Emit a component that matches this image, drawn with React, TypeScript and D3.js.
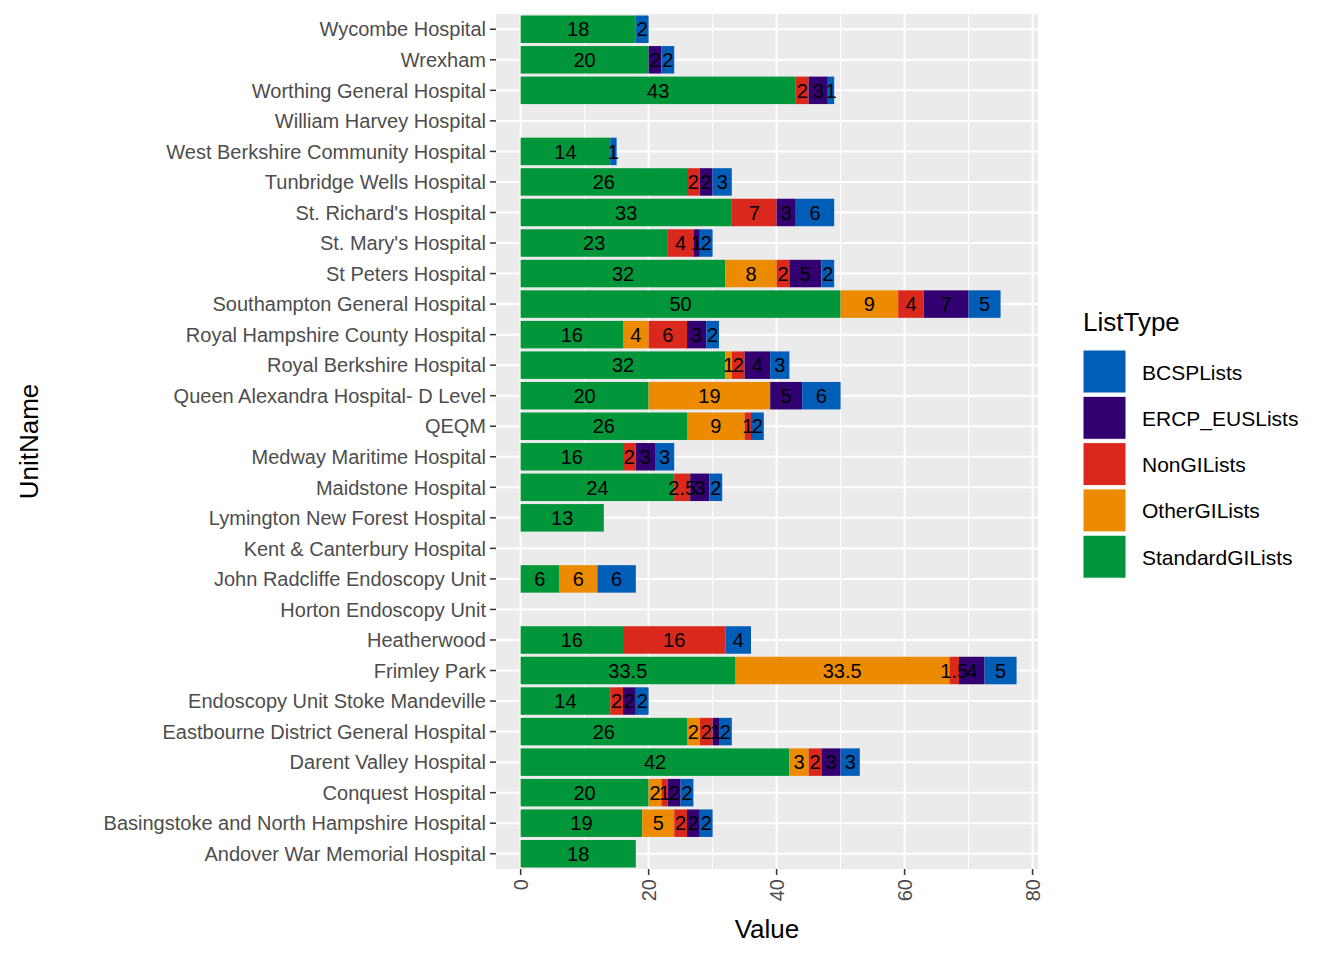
import React from 'react';
import * as d3 from 'd3';

const units = ["Wycombe Hospital","Wrexham","Worthing General Hospital","William Harvey Hospital","West Berkshire Community Hospital","Tunbridge Wells Hospital","St. Richard's Hospital","St. Mary's Hospital","St Peters Hospital","Southampton General Hospital","Royal Hampshire County Hospital","Royal Berkshire Hospital","Queen Alexandra Hospital- D Level","QEQM","Medway Maritime Hospital","Maidstone Hospital","Lymington New Forest Hospital","Kent & Canterbury Hospital","John Radcliffe Endoscopy Unit","Horton Endoscopy Unit","Heatherwood","Frimley Park","Endoscopy Unit Stoke Mandeville","Eastbourne District General Hospital","Darent Valley Hospital","Conquest Hospital","Basingstoke and North Hampshire Hospital","Andover War Memorial Hospital"];
const standardGI = [18,20,43,0,14,26,33,23,32,50,16,32,20,26,16,24,13,0,6,0,16,33.5,14,26,42,20,19,18];
const otherGI =    [0,0,0,0,0,0,0,0,8,9,4,1,19,9,0,0,0,0,6,0,0,33.5,0,2,3,2,5,0];
const nonGI =      [0,0,2,0,0,2,7,4,2,4,6,2,0,1,2,2.5,0,0,0,0,16,1.5,2,2,2,1,2,0];
const ercp =       [0,2,3,0,0,2,3,1,5,7,3,4,5,0,3,3,0,0,0,0,0,4,2,1,3,2,2,0];
const bcsp =       [2,2,1,0,1,3,6,2,2,5,2,3,6,2,3,2,0,0,6,0,4,5,2,2,3,2,2,0];
const seriesNames = ["StandardGILists","OtherGILists","NonGILists","ERCP_EUSLists","BCSPLists"];
const seriesValues = [standardGI, otherGI, nonGI, ercp, bcsp];
const colors: Record<string,string> = { BCSPLists: "#005EB8", ERCP_EUSLists: "#330072", NonGILists: "#DA291C", OtherGILists: "#ED8B00", StandardGILists: "#009639" };
const legendOrder = ["BCSPLists","ERCP_EUSLists","NonGILists","OtherGILists","StandardGILists"];
const xTicks = [0,20,40,60,80];

export default function App() {
  const W = 1344, H = 960;
  const left = 496, right = 1038, top = 14, bottom = 869;
  const x = d3.scaleLinear().domain([-3.85, 80.85]).range([left, right]);
  const y = d3.scaleBand().domain(units).range([top, bottom]).paddingInner(0.1).paddingOuter(0.05);
  const font = "Arial, 'Liberation Sans', sans-serif";
  const fmt = (v: number) => String(v);
  const minor = xTicks.slice(0, -1).map(t => t + 10);

  const segs: any[] = [];
  units.forEach((u, i) => {
    let acc = 0;
    seriesNames.forEach((s, k) => {
      const v = seriesValues[k][i];
      if (v > 0) segs.push({ u, s, x0: acc, x1: acc + v, v });
      acc += v;
    });
  });

  return (
    <svg width={W} height={H} style={{ position: 'absolute', left: 0, top: 0, background: '#fff' }} fontFamily={font}>
      <rect x={left} y={top} width={right - left} height={bottom - top} fill="#EBEBEB" />
      {minor.map(t => <line key={'m' + t} x1={x(t)} x2={x(t)} y1={top} y2={bottom} stroke="#fff" strokeWidth={1} />)}
      {xTicks.map(t => <line key={'g' + t} x1={x(t)} x2={x(t)} y1={top} y2={bottom} stroke="#fff" strokeWidth={2} />)}
      {units.map(u => <line key={'h' + u} x1={left} x2={right} y1={y(u)! + y.bandwidth() / 2} y2={y(u)! + y.bandwidth() / 2} stroke="#fff" strokeWidth={2} />)}
      {segs.map((d, i) => (
        <rect key={'r' + i} x={x(d.x0)} width={x(d.x1) - x(d.x0)} y={y(d.u)} height={y.bandwidth()} fill={colors[d.s]} />
      ))}
      {segs.map((d, i) => (
        <text key={'t' + i} x={(x(d.x0) + x(d.x1)) / 2} y={y(d.u)! + y.bandwidth() / 2} dy="0.36em" textAnchor="middle" fontSize={20} fill="#000">{fmt(d.v)}</text>
      ))}
      {units.map(u => (
        <g key={'yl' + u}>
          <line x1={left - 6} x2={left} y1={y(u)! + y.bandwidth() / 2} y2={y(u)! + y.bandwidth() / 2} stroke="#333" strokeWidth={1.5} />
          <text x={left - 10} y={y(u)! + y.bandwidth() / 2} dy="0.36em" textAnchor="end" fontSize={20} fill="#4D4D4D">{u}</text>
        </g>
      ))}
      {xTicks.map(t => (
        <g key={'xl' + t}>
          <line x1={x(t)} x2={x(t)} y1={bottom} y2={bottom + 6} stroke="#333" strokeWidth={1.5} />
          <text transform={`translate(${x(t)},${bottom + 10}) rotate(-90)`} dy="0.36em" textAnchor="end" fontSize={20} fill="#4D4D4D">{t}</text>
        </g>
      ))}
      <text x={(left + right) / 2} y={938} textAnchor="middle" fontSize={26} fill="#000">Value</text>
      <text transform={`translate(38,${(top + bottom) / 2}) rotate(-90)`} textAnchor="middle" fontSize={26} fill="#000">UnitName</text>
      <text x={1083} y={331} fontSize={26} fill="#000">ListType</text>
      {legendOrder.map((s, i) => (
        <g key={'lg' + s}>
          <rect x={1083} y={350 + i * 46.3} width={43} height={43} fill={colors[s]} stroke="#fff" strokeWidth={1} />
          <text x={1142} y={350 + i * 46.3 + 22} dy="0.36em" fontSize={21} fill="#000">{s}</text>
        </g>
      ))}
    </svg>
  );
}
